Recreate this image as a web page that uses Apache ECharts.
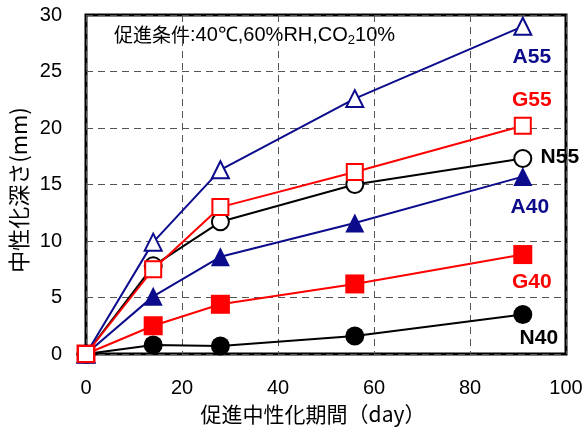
<!DOCTYPE html>
<html>
<head>
<meta charset="utf-8">
<script src="https://cdn.jsdelivr.net/npm/echarts@6/dist/echarts.min.js"></script>
<style>
  html, body { margin: 0; padding: 0; background: #fff; }
  #chart { width: 585px; height: 430px; }
</style>
</head>
<body>
<div id="chart"></div>
<script>
// 促進期間 (day)
const days = [0, 14, 28, 56, 91];

// 中性化深さ (mm)
const N40 = [0, 0.8, 0.7, 1.6, 3.5];
const G40 = [0, 2.5, 4.4, 6.2, 8.8];
const A40 = [0, 5.1, 8.6, 11.6, 15.7];
const N55 = [0, 7.8, 11.7, 15.0, 17.3];
const A55 = [0, 9.9, 16.3, 22.6, 29.0];
const G55 = [0, 7.5, 13.0, 16.1, 20.2];

const xTicks = [0, 20, 40, 60, 80, 100];
const yTicks = [0, 5, 10, 15, 20, 25, 30];

const NAVY = '#0b0b8c';
const RED = '#ff0000';
const BLACK = '#000000';
const FONT = '"Liberation Sans", Arial, sans-serif';
const CJK = '"Noto Sans CJK JP", "Liberation Sans", sans-serif';

// name, values, colour, symbol, hollow?, label offset, size
const seriesDefs = [
  ['N40', N40, BLACK, 'circle', false, [16, 24], 19],
  ['G40', G40, RED, 'rect', false, [9, 28], 19],
  ['A40', A40, NAVY, 'triangle', false, [7, 31], 19],
  ['N55', N55, BLACK, 'circle', true, [37, -1], 17],
  ['A55', A55, NAVY, 'triangle', true, [9, 31], 17],
  ['G55', G55, RED, 'rect', true, [9, -26], 16]
];

function makeSeries(def) {
  const [name, vals, color, symbol, hollow, off, size] = def;
  const data = vals.map((v, i) => [days[i], v]);
  const last = data.length - 1;
  data[last] = {
    value: data[last],
    label: {
      show: true,
      formatter: name,
      position: 'inside',
      offset: off,
      color: color,
      fontFamily: FONT,
      fontWeight: 'bold',
      fontSize: 21
    }
  };
  return {
    name: name,
    type: 'line',
    data: data,
    symbol: symbol,
    symbolSize: size,
    showAllSymbol: true,
    lineStyle: { color: color, width: 2 },
    itemStyle: hollow
      ? { color: '#fff', borderColor: color, borderWidth: 2 }
      : { color: color, borderWidth: 0 },
    emphasis: { disabled: true },
    animation: false
  };
}

const chart = echarts.init(document.getElementById('chart'), null, { renderer: 'canvas' });

const option = {
  backgroundColor: '#fff',
  grid: {
    left: 86, right: 19, top: 15, bottom: 76,
    outerBoundsMode: 'none',
    containLabel: false,
    show: true, borderColor: '#000', borderWidth: 3, backgroundColor: 'transparent'
  },
  xAxis: {
    type: 'value',
    min: xTicks[0], max: xTicks[xTicks.length - 1], interval: 20,
    axisLine: { show: false },
    axisTick: { show: false },
    axisLabel: { fontFamily: FONT, fontSize: 20, color: '#000', margin: 24 },
    splitLine: { show: true, lineStyle: { color: '#555', width: 1, type: [7, 5] } }
  },
  yAxis: {
    type: 'value',
    min: yTicks[0], max: yTicks[yTicks.length - 1], interval: 5,
    axisLine: { show: false },
    axisTick: { show: false },
    axisLabel: { fontFamily: FONT, fontSize: 20, color: '#000', margin: 24 },
    splitLine: { show: true, lineStyle: { color: '#555', width: 1, type: [7, 5] } }
  },
  graphic: [
    {
      type: 'text',
      left: 114,
      top: 25,
      style: {
        text: '{c|促進条件}{a|:40℃,60%RH,CO}{s|2}{a|10%}',
        rich: {
          c: { fontFamily: CJK, fontSize: 19, fill: '#000' },
          a: { fontFamily: FONT, fontSize: 20, fill: '#000' },
          s: { fontFamily: FONT, fontSize: 13, fill: '#000', padding: [10, 0, 0, 0] }
        }
      }
    },
    {
      type: 'text',
      x: 19, y: 190,
      rotation: Math.PI / 2,
      style: {
        text: '中性化深さ(mm)',
        fontFamily: CJK, fontSize: 22, fill: '#000',
        align: 'center', verticalAlign: 'middle'
      }
    },
    {
      type: 'text',
      x: 313, y: 414,
      style: {
        text: '促進中性化期間（day）',
        fontFamily: CJK, fontSize: 21, fill: '#000',
        align: 'center', verticalAlign: 'middle'
      }
    }
  ],
  series: seriesDefs.map(makeSeries)
};

chart.setOption(option);
</script>
</body>
</html>
